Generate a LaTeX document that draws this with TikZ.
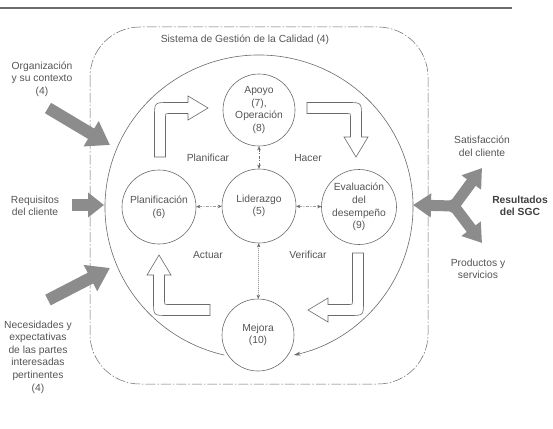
\documentclass[tikz,border=0pt]{standalone}
\usepackage{fontspec}
\setmainfont{Liberation Sans}
\usetikzlibrary{arrows.meta}
\definecolor{txt}{HTML}{555555}
\definecolor{ln}{HTML}{6A6A6A}
\definecolor{garr}{HTML}{8C8C8C}
\begin{document}
\begin{tikzpicture}[x=1pt,y=-1pt,
  font=\fontsize{10.3}{12.6}\selectfont,
  phase/.style={circle, draw=ln, line width=0.6pt, minimum size=72pt, inner sep=0pt, align=center, text=txt},
  lbl/.style={align=center, text=txt, inner sep=0pt},
  link/.style={draw=ln, line width=0.5pt, {Stealth[length=4pt,width=3.5pt]}-{Stealth[length=4pt,width=3.5pt]}, dash pattern=on 3pt off 1.5pt on 1pt off 1.5pt},
  dlink/.style={draw=ln, line width=0.5pt, {Stealth[length=4pt,width=3.5pt]}-{Stealth[length=4pt,width=3.5pt]}, dash pattern=on 1pt off 1pt},
  larrow/.style={draw=ln, line width=0.6pt, fill=white, line join=miter},
  garrow/.style={draw=garr, line width=12pt, -{Triangle[width=28pt,length=22pt]}}
]
\useasboundingbox (0,0) rectangle (553,428);
\fill[white] (0,0) rectangle (553,428);
% top rule
\draw[draw=ln, line width=1.3pt] (0,8) -- (512,8);
% system boundary
\draw[draw=ln, line width=0.5pt, rounded corners=50pt, dash pattern=on 10pt off 2pt on 1.5pt off 2pt] (90,27) rectangle (428,384);
\node[lbl] (title) at (245,40) {Sistema de Gestión de la Calidad (4)};

% phases
\node[phase] (apoyo) at (259,110) {Apoyo\\(7),\\Operación\\(8)};
\node[phase, minimum size=74pt] (lider) at (259,206) {Liderazgo\\(5)};
\node[phase, minimum size=74pt] (plan) at (159,207) {Planificación\\(6)};
\node[phase, minimum size=75pt] (eval) at (359,207) {Evaluación\\del\\desempeño\\(9)};
\node[phase] (mejora) at (258,335) {Mejora\\(10)};

% big cycle
\draw[draw=ln, line width=0.6pt, -{Stealth[length=7pt,width=4pt]}] (259,207) ++(103:154 and 152) arc[start angle=103, end angle=437, x radius=154, y radius=152];

% inner links
\draw[link] (plan) -- (lider);
\draw[link] (lider) -- (eval);
\draw[link] (apoyo) -- (lider);
\draw[dlink] (lider) -- (mejora);

% PDCA labels
\node[lbl] (planif) at (208,158) {Planificar};
\node[lbl] (hacer) at (308,158) {Hacer};
\node[lbl] (actuar) at (208,255) {Actuar};
\node[lbl] (verif) at (308,255) {Verificar};

% hollow L-shaped arrows
\draw[larrow] (154.5,157) -- (154.5,116.5) .. controls (154.5,102.5) .. (168.5,102.5) -- (188,102.5) -- (188,96) -- (208,108) -- (188,120) -- (188,113.5) -- (168.5,113.5) .. controls (165.5,113.5) .. (165.5,116.5) -- (165.5,157) -- cycle;
\draw[larrow] (307,102.5) -- (347.5,102.5) .. controls (361.5,102.5) .. (361.5,116.5) -- (361.5,137) -- (368,137) -- (356,157) -- (344,137) -- (350.5,137) -- (350.5,116.5) .. controls (350.5,113.5) .. (347.5,113.5) -- (307,113.5) -- cycle;
\draw[larrow] (363.5,253) -- (363.5,301.5) .. controls (363.5,315.5) .. (349.5,315.5) -- (328,315.5) -- (328,322) -- (308,310) -- (328,298) -- (328,304.5) -- (349.5,304.5) .. controls (352.5,304.5) .. (352.5,301.5) -- (352.5,253) -- cycle;
\draw[larrow] (210,315.5) -- (167.5,315.5) .. controls (153.5,315.5) .. (153.5,301.5) -- (153.5,275) -- (147,275) -- (159,255) -- (171,275) -- (164.5,275) -- (164.5,301.5) .. controls (164.5,304.5) .. (167.5,304.5) -- (210,304.5) -- cycle;

% inputs
\node[lbl] (org) at (42,79) {Organización\\y su contexto\\(4)};
\node[lbl] (req) at (35,206) {Requisitos\\del cliente};
\node[lbl] (nec) at (38,357) {Necesidades y\\expectativas\\de las partes\\interesadas\\pertinentes\\(4)};
\coordinate (o1) at (48,108); \coordinate (o2) at (110,145);
\coordinate (r1) at (72,205); \coordinate (r2) at (104,205);
\coordinate (n1) at (48,300); \coordinate (n2) at (110,268);
\draw[garrow] (o1) -- (o2);
\draw[garrow, -{Triangle[width=24pt,length=16pt]}] (r1) -- (r2);
\draw[garrow] (n1) -- (n2);

% outputs
\node[lbl] (sat) at (482,146) {Satisfacción\\del cliente};
\node[lbl, font=\fontsize{10.3}{12.6}\selectfont\bfseries, text=black!75] (res) at (520,206) {Resultados\\del SGC};
\node[lbl] (prod) at (478,269) {Productos y\\servicios};
\coordinate (c) at (454,206);
\coordinate (t1) at (413,205);
\coordinate (t2) at (482,168);
\coordinate (t3) at (482,243);
\fill[garr] (c) circle[radius=7pt];
\draw[garrow, line width=11pt, -{Triangle[width=23pt,length=18pt]}] (c) -- (t1);
\draw[garrow, line width=11pt, -{Triangle[width=23pt,length=18pt]}] (c) -- (t2);
\draw[garrow, line width=11pt, -{Triangle[width=23pt,length=18pt]}] (c) -- (t3);
\end{tikzpicture}
\end{document}
